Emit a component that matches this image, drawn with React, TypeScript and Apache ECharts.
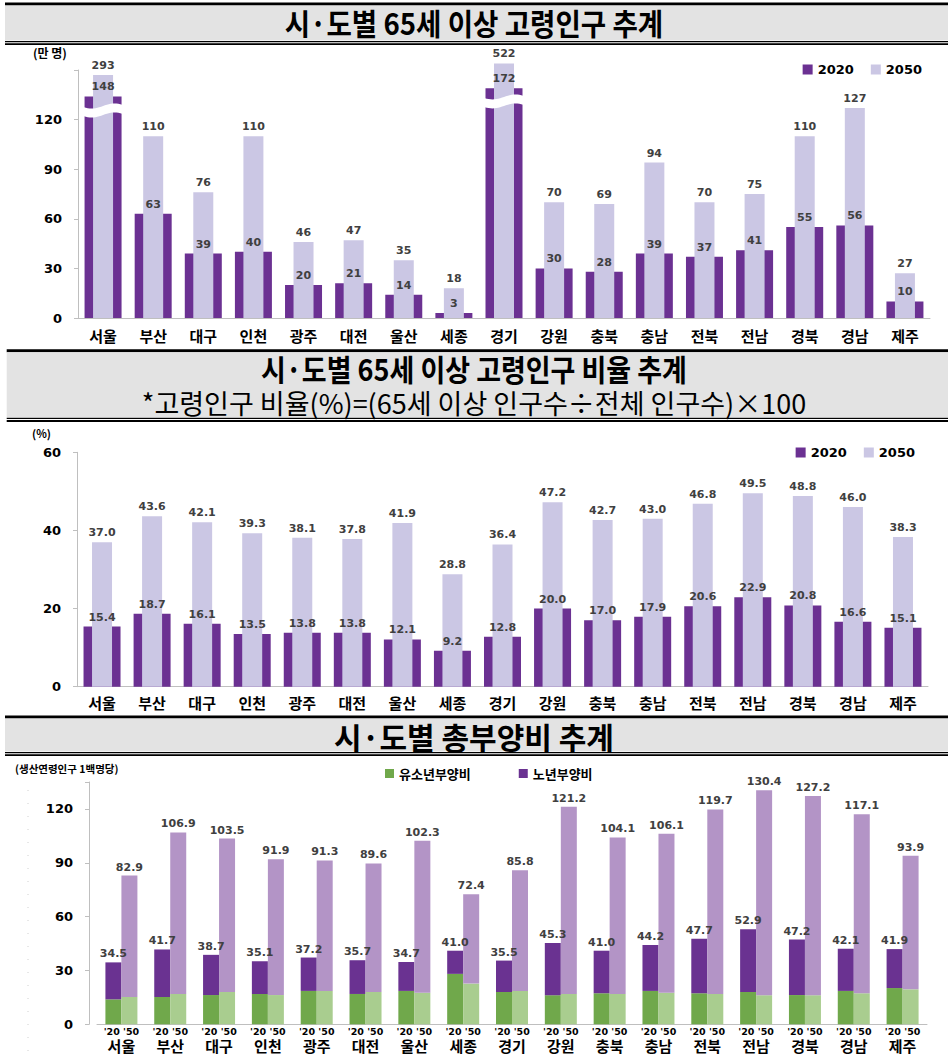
import React, { useEffect, useRef } from 'react';
import * as echarts from 'echarts';

// ---------- data ----------
const regions = ['서울', '부산', '대구', '인천', '광주', '대전', '울산', '세종', '경기', '강원', '충북', '충남', '전북', '전남', '경북', '경남', '제주'];

// 65세 이상 고령인구 (만 명)
const pop2020 = [148, 63, 39, 40, 20, 21, 14, 3, 172, 30, 28, 39, 37, 41, 55, 56, 10];
const pop2050 = [293, 110, 76, 110, 46, 47, 35, 18, 522, 70, 69, 94, 70, 75, 110, 127, 27];

// bars drawn with an axis break (shown height, break level)
const brokenRegions = ['서울', '경기'];
const brokenShown2020 = [134, 139];
const brokenShown2050 = [147, 154];
const brokenAt = [125.5, 131];

// 고령인구 비율 (%)
const ratio2020 = [15.4, 18.7, 16.1, 13.5, 13.8, 13.8, 12.1, 9.2, 12.8, 20.0, 17.0, 17.9, 20.6, 22.9, 20.8, 16.6, 15.1];
const ratio2050 = [37.0, 43.6, 42.1, 39.3, 38.1, 37.8, 41.9, 28.8, 36.4, 47.2, 42.7, 43.0, 46.8, 49.5, 48.8, 46.0, 38.3];

// 총부양비 (생산연령인구 1백명당)
const total2020 = [34.5, 41.7, 38.7, 35.1, 37.2, 35.7, 34.7, 41.0, 35.5, 45.3, 41.0, 44.2, 47.7, 52.9, 47.2, 42.1, 41.9];
const total2050 = [82.9, 106.9, 103.5, 91.9, 91.3, 89.6, 102.3, 72.4, 85.8, 121.2, 104.1, 106.1, 119.7, 130.4, 127.2, 117.1, 93.9];
const youth2020 = [13.9, 15.2, 16.3, 16.9, 18.6, 16.9, 18.6, 28.1, 18.0, 16.2, 17.3, 18.6, 17.3, 18.0, 16.3, 18.6, 20.2];
const youth2050 = [15.2, 16.9, 18.0, 16.3, 18.6, 18.0, 17.6, 22.7, 18.6, 16.9, 16.9, 17.6, 16.9, 16.2, 16.2, 17.3, 19.5];

const popTicksMax = 120;
const depTicksMax = 120;

// ---------- style ----------
const KR = '"Noto Sans CJK KR", "Noto Sans", sans-serif';
const NUM = '"DejaVu Sans", Verdana, sans-serif';
const DARK = '#6b3192';
const LIGHT = '#cbc7e4';
const P1 = '#6a3291';
const P2 = '#b394c6';
const G1 = '#70a84b';
const G2 = '#a9cd8f';
const AXIS = '#bfbfbf';
const LBL = '#404040';

const shownValues = (vals: number[], shown: number[]) =>
  vals.map((v, i) => {
    const k = brokenRegions.indexOf(regions[i]);
    return k >= 0 ? shown[k] : v;
  });

const elderly2020 = total2020.map((t, i) => +(t - youth2020[i]).toFixed(1));
const elderly2050 = total2050.map((t, i) => +(t - youth2050[i]).toFixed(1));

function banner(top: number, left: number, grayH: number) {
  const els: any[] = [];
  els.push({ type: 'rect', shape: { x: left, y: top, width: 948 - left, height: 3 }, style: { fill: '#000' }, silent: true });
  els.push({ type: 'rect', shape: { x: left, y: top + 3, width: 948 - left, height: grayH }, style: { fill: '#e3e3e3' }, silent: true });
  els.push({ type: 'rect', shape: { x: left, y: top + 3 + grayH + 0.5, width: 948 - left, height: 1.2 }, style: { fill: '#000' }, silent: true });
  els.push({ type: 'rect', shape: { x: left, y: top + 3 + grayH + 2.8, width: 948 - left, height: 1.8 }, style: { fill: '#000' }, silent: true });
  return els;
}

function title(text: string, y: number, size: number, weight: string, sx: number) {
  return {
    type: 'text', x: 474, y, scaleX: sx, silent: true,
    style: { text, fontFamily: KR, fontSize: size, fontWeight: weight, fill: '#000', align: 'center', verticalAlign: 'middle' },
  };
}

function unitText(text: string, x: number, y: number, size: number) {
  return {
    type: 'text', x, y, silent: true,
    style: { text, fontFamily: KR, fontSize: size, fontWeight: 'bold', fill: '#000', align: 'left', verticalAlign: 'middle' },
  };
}

const valueLabel = (fmt: (i: number) => string, distance = 4) => ({
  show: true, position: 'top', distance, color: LBL, fontFamily: NUM, fontWeight: 'bold', fontSize: 11,
  formatter: (p: any) => fmt(p.dataIndex),
});

function breakRender(params: any, api: any) {
  const p = api.coord([api.value(0), api.value(1)]);
  const w = 46;
  const n = 24;
  const pts: number[][] = [];
  for (let i = 0; i <= n; i++) {
    const t = i / n;
    pts.push([p[0] - w / 2 + t * w, p[1] - 4.5 + 2.5 * Math.sin(Math.PI * 2 * t)]);
  }
  for (let i = n; i >= 0; i--) {
    const t = i / n;
    pts.push([p[0] - w / 2 + t * w, p[1] + 4.5 + 2.5 * Math.sin(Math.PI * 2 * t)]);
  }
  return { type: 'polygon', shape: { points: pts }, style: { fill: '#fff' } };
}

function catAxis(gridIndex: number, show: boolean, label?: any) {
  return {
    type: 'category', gridIndex, data: regions, show,
    axisLine: { show: true, lineStyle: { color: AXIS } },
    axisTick: { show: false },
    axisLabel: label || { show: false },
  };
}

const regionLabel = (margin: number) => ({
  show: true, margin, interval: 0, color: '#000', fontFamily: KR, fontWeight: 'bold', fontSize: 15,
});

function valAxis(gridIndex: number, max: number, interval: number, labelMax: number, offset = 0) {
  return {
    type: 'value', gridIndex, min: 0, max, interval, offset,
    axisLine: { show: true, lineStyle: { color: AXIS } },
    axisTick: { show: true, length: 4, lineStyle: { color: AXIS } },
    splitLine: { show: false },
    axisLabel: {
      margin: 16, color: '#000', fontFamily: NUM, fontWeight: 'bold', fontSize: 13,
      formatter: (v: number) => (v > labelMax ? '' : String(v)),
    },
  };
}

export default function App() {
  const ref = useRef<HTMLDivElement>(null);
  useEffect(() => {
    if (!ref.current) return;
    const chart = echarts.init(ref.current, undefined, { renderer: 'svg' });
    const shown2020 = shownValues(pop2020, brokenShown2020);
    const shown2050 = shownValues(pop2050, brokenShown2050);
    const legendText = { fontFamily: NUM, fontWeight: 'bold', fontSize: 13, color: '#000' };

    const option: any = {
      animation: false,
      backgroundColor: '#fff',
      grid: [
        { left: 78, right: 18, top: 70, height: 248 },
        { left: 77, right: 20, top: 452.3, height: 234.4 },
        { left: 97, right: 21, top: 782, height: 242.3 },
      ],
      legend: [
        { data: ['2020', '2050'], right: 21, top: 58, icon: 'rect', itemWidth: 10, itemHeight: 10, itemGap: 17, selectedMode: false, textStyle: legendText },
        { data: ['2020', '2050'], right: 28, top: 441, icon: 'rect', itemWidth: 10, itemHeight: 10, itemGap: 17, selectedMode: false, textStyle: legendText },
        { data: ['유소년부양비', '노년부양비'], left: 380, top: 762, icon: 'rect', itemWidth: 9, itemHeight: 9, itemGap: 48, selectedMode: false, textStyle: { fontFamily: KR, fontWeight: 'bold', fontSize: 13, color: '#000' } },
      ],
      xAxis: [
        catAxis(0, true, regionLabel(10)),
        catAxis(0, false),
        catAxis(1, true, regionLabel(8)),
        catAxis(1, false),
        catAxis(2, true, {
          show: true, interval: 0, margin: 1,
          formatter: (v: string) => `{a|'20 '50}\n{b|${v}}`,
          rich: {
            a: { fontFamily: NUM, fontWeight: 'bold', fontSize: 9.5, color: '#000', lineHeight: 12 },
            b: { fontFamily: KR, fontWeight: 'bold', fontSize: 15, color: '#000', lineHeight: 17 },
          },
        }),
      ],
      yAxis: [
        valAxis(0, 150, 30, popTicksMax),
        valAxis(1, 60, 20, 60),
        valAxis(2, 135, 30, depTicksMax, 8),
      ],
      series: [
        // chart 1
        { name: '2020', type: 'bar', xAxisIndex: 0, yAxisIndex: 0, data: shown2020, barWidth: 37, barGap: '-100%', itemStyle: { color: DARK }, z: 2 },
        { name: 'pop2050', type: 'bar', xAxisIndex: 1, yAxisIndex: 0, data: shown2050, barWidth: 20, itemStyle: { color: LIGHT }, z: 3, clip: false,
          label: valueLabel((i) => String(pop2050[i])) },
        { name: 'pop2020label', type: 'bar', xAxisIndex: 0, yAxisIndex: 0, data: shown2020, barWidth: 37, barGap: '-100%', itemStyle: { color: 'rgba(0,0,0,0)' }, z: 4, silent: true,
          label: valueLabel((i) => String(pop2020[i])) },
        { name: 'break', type: 'custom', xAxisIndex: 0, yAxisIndex: 0, z: 6, silent: true,
          data: brokenRegions.map((r, k) => [regions.indexOf(r), brokenAt[k]]), renderItem: breakRender },
        // chart 2
        { name: '2020', type: 'bar', xAxisIndex: 2, yAxisIndex: 1, data: ratio2020, barWidth: 37, barGap: '-100%', itemStyle: { color: DARK }, z: 2 },
        { name: '2050', type: 'bar', xAxisIndex: 3, yAxisIndex: 1, data: ratio2050, barWidth: 20, itemStyle: { color: LIGHT }, z: 3,
          label: valueLabel((i) => ratio2050[i].toFixed(1)) },
        { name: 'ratio2020label', type: 'bar', xAxisIndex: 2, yAxisIndex: 1, data: ratio2020, barWidth: 37, barGap: '-100%', itemStyle: { color: 'rgba(0,0,0,0)' }, z: 4, silent: true,
          label: valueLabel((i) => ratio2020[i].toFixed(1)) },
        // chart 3
        { name: '유소년부양비', type: 'bar', stack: 'y20', xAxisIndex: 4, yAxisIndex: 2, data: youth2020, barWidth: 16, barGap: '0%', itemStyle: { color: G1 } },
        { name: '노년부양비', type: 'bar', stack: 'y20', xAxisIndex: 4, yAxisIndex: 2, data: elderly2020, barWidth: 16, barGap: '0%', itemStyle: { color: P1 },
          label: valueLabel((i) => total2020[i].toFixed(1), 3) },
        { name: '유소년부양비', type: 'bar', stack: 'y50', xAxisIndex: 4, yAxisIndex: 2, data: youth2050, barWidth: 16, barGap: '0%', itemStyle: { color: G2 } },
        { name: '노년부양비', type: 'bar', stack: 'y50', xAxisIndex: 4, yAxisIndex: 2, data: elderly2050, barWidth: 16, barGap: '0%', itemStyle: { color: P2 },
          label: valueLabel((i) => total2050[i].toFixed(1), 3) },
      ],
      graphic: [
        ...banner(2.5, 5, 35),
        ...banner(349.3, 6.7, 65),
        ...banner(715.5, 5, 33),
        title('시·도별 65세 이상 고령인구 추계', 22, 30, 'bold', 0.92),
        title('시·도별 65세 이상 고령인구 비율 추계', 368, 30, 'bold', 0.9),
        title('*고령인구 비율(%)=(65세 이상 인구수÷전체 인구수)×100', 402, 27, 'normal', 1.0),
        title('시·도별 총부양비 추계', 736, 30, 'bold', 1.0),
        unitText('(만 명)', 33, 52, 12),
        unitText('(%)', 32, 433, 11),
        unitText('(생산연령인구 1백명당)', 15, 768, 10.5),
        { type: 'line', silent: true, shape: { x1: 28, y1: 790, x2: 28, y2: 1052 }, style: { stroke: '#d0d0d0', lineWidth: 1, lineDash: [1, 12] } },
      ],
    };
    chart.setOption(option);
    return () => chart.dispose();
  }, []);
  return <div ref={ref} style={{ position: 'absolute', left: 0, top: 0, width: 948, height: 1057 }} />;
}
